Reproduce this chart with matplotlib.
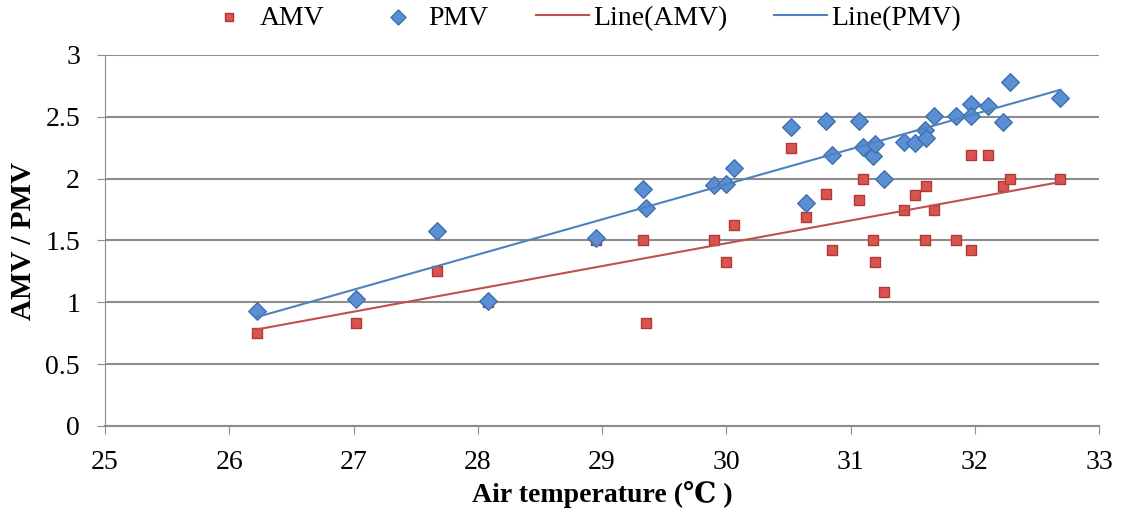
import numpy as np
import matplotlib
matplotlib.use("Agg")
from matplotlib import pyplot as plt

plt.rcParams["font.family"] = ["Liberation Serif", "DejaVu Serif"]

# air temperature of each survey point (same for AMV and PMV)
temp = [26.22, 27.02, 27.67, 28.08, 28.95, 29.33, 29.35, 29.90, 30.00, 30.06,
        30.52, 30.64, 30.80, 30.85, 31.07, 31.10, 31.18, 31.20, 31.27, 31.43,
        31.52, 31.60, 31.61, 31.67, 31.85, 31.97, 31.97, 32.11, 32.23, 32.28, 32.69]
amv = [0.75, 0.83, 1.25, 1.00, 1.50, 1.50, 0.83, 1.50, 1.33, 1.625,
       2.25, 1.69, 1.875, 1.42, 1.83, 2.00, 1.50, 1.33, 1.08, 1.75,
       1.87, 1.50, 1.94, 1.75, 1.50, 1.42, 2.19, 2.19, 1.94, 2.00, 2.00]
pmv = [0.93, 1.03, 1.58, 1.01, 1.52, 1.92, 1.76, 1.95, 1.96, 2.09,
       2.42, 1.80, 2.47, 2.19, 2.47, 2.26, 2.18, 2.28, 2.00, 2.30,
       2.29, 2.39, 2.33, 2.51, 2.51, 2.60, 2.51, 2.59, 2.46, 2.78, 2.65]

red = "#C0504D"
blue = "#4F81BD"
grey = "#8C8C8C"

fig = plt.figure(figsize=(11.28, 5.13), dpi=100)
ax = fig.add_axes([0.0931, 0.1696, 0.8812, 0.7232])

ax.scatter(temp, amv, marker="s", s=55, color="#D9534F", edgecolor="#B23A36",
           linewidth=1, label="AMV", zorder=3)
ax.scatter(temp, pmv, marker="D", s=80, color="#5B8FD4", edgecolor="#3F6FAF",
           linewidth=1, label="PMV", zorder=4)

# linear trend lines
for ys, c, lab in [(amv, red, "Line(AMV)"), (pmv, blue, "Line(PMV)")]:
    k, b = np.polyfit(temp, ys, 1)
    xx = np.array([min(temp), max(temp)])
    ax.plot(xx, k * xx + b, color=c, lw=1.5, label=lab, zorder=5)

ax.set_xlim(25, 33)
ax.set_ylim(0, 3)
ax.set_xticks(range(25, 34))
ax.set_yticks(np.arange(0, 3.01, 0.5))
ax.set_yticklabels(["0", "0.5", "1", "1.5", "2", "2.5", "3"])
ax.grid(axis="y", color=grey, lw=1.5)
ax.set_axisbelow(True)
for s in ["top", "right"]:
    ax.spines[s].set_visible(False)
ax.spines["left"].set_color(grey)
ax.spines["bottom"].set_color(grey)
ax.spines["bottom"].set_linewidth(1.5)
ax.tick_params(axis="both", labelsize=20, color=grey, length=6)
ax.tick_params(axis="x", pad=11)
ax.tick_params(axis="y", pad=12)

ax.set_xlabel("Air temperature (℃ )", fontsize=20, fontweight="bold")
ax.xaxis.set_label_coords(0.5, -0.148)
ax.set_ylabel("AMV / PMV", fontsize=21, fontweight="bold")
ax.yaxis.set_label_coords(-0.068, 0.5)

fig.legend(loc="center", bbox_to_anchor=(0.516, 1 - 18 / 513), ncol=4, frameon=False,
           fontsize=20, handlelength=1.9, columnspacing=1.7, handletextpad=0.15,
           markerscale=0.85)

fig.savefig("out.png", dpi=100)
